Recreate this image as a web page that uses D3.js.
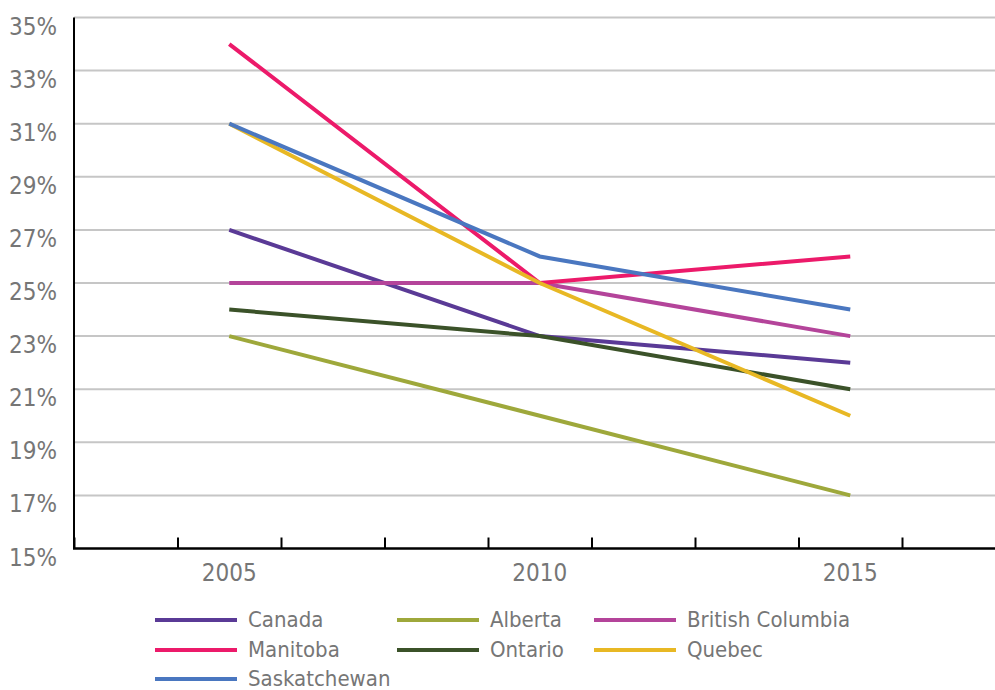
<!DOCTYPE html>
<html>
<head>
<meta charset="utf-8">
<script src="https://cdn.jsdelivr.net/npm/d3@7"></script>
<style>
  html, body { margin: 0; padding: 0; background: #fff; }
  svg { display: block; }
  text { font-family: "Liberation Sans Narrow", "DejaVu Sans Condensed", "Roboto", sans-serif; fill: #767676; }
</style>
</head>
<body>
<svg id="chart" width="995" height="690"></svg>
<script>
const years = [2005, 2010, 2015];
const yTicks = [15, 17, 19, 21, 23, 25, 27, 29, 31, 33, 35];
const seriesNames = ["Canada", "Alberta", "British Columbia", "Manitoba", "Ontario", "Quebec", "Saskatchewan"];
const seriesColors = ["#5a3a96", "#9ea83b", "#b4449a", "#ec1a6a", "#3b5229", "#e8b824", "#4a77c0"];
const canada = [27, 23, 22];
const alberta = [23, 20, 17];
const britishColumbia = [25, 25, 23];
const manitoba = [34, 25, 26];
const ontario = [24, 23, 21];
const quebec = [31, 25, 20];
const saskatchewan = [31, 26, 24];
const seriesValues = [canada, alberta, britishColumbia, manitoba, ontario, quebec, saskatchewan];

const svg = d3.select("#chart");
const mLeft = 74, mRight = 1005.5, mTop = 17.5, mBottom = 548.5;

const x = d3.scaleLinear().domain([2002.5, 2017.5]).range([mLeft, mRight]);
const y = d3.scaleLinear().domain([15, 35]).range([mBottom, mTop]);

// gridlines
svg.append("g")
  .selectAll("line")
  .data(yTicks.filter(d => d > 15))
  .join("line")
  .attr("x1", mLeft).attr("x2", 995)
  .attr("y1", d => y(d)).attr("y2", d => y(d))
  .attr("stroke", "#c6c6c6").attr("stroke-width", 2);

// y labels
svg.append("g")
  .selectAll("text")
  .data(yTicks)
  .join("text")
  .attr("x", 57)
  .attr("y", d => y(d) + 17)
  .attr("text-anchor", "end")
  .attr("font-size", 24)
  .text(d => d + "%");

// x axis
const xTickVals = d3.range(0, 9).map(k => 2002.5 + k * 5 / 3);
const xAxis = d3.axisBottom(x)
  .tickValues(xTickVals)
  .tickSize(-11)
  .tickFormat("");
const gx = svg.append("g").attr("transform", `translate(0,${mBottom})`).call(xAxis);
gx.select(".domain").remove();
gx.selectAll(".tick line").attr("stroke", "#000").attr("stroke-width", 2);
gx.append("line").attr("x1", mLeft - 1).attr("x2", 995).attr("y1", 0).attr("y2", 0)
  .attr("stroke", "#000").attr("stroke-width", 2.5);

// y axis line
svg.append("line").attr("x1", mLeft).attr("x2", mLeft).attr("y1", mTop).attr("y2", mBottom)
  .attr("stroke", "#000").attr("stroke-width", 2);

// x labels
svg.append("g")
  .selectAll("text")
  .data(years)
  .join("text")
  .attr("x", d => x(d))
  .attr("y", 581)
  .attr("text-anchor", "middle")
  .attr("font-size", 24)
  .text(d => d);

// lines
const line = d3.line().x((d, i) => x(years[i])).y(d => y(d));
svg.append("g")
  .selectAll("path")
  .data(seriesValues)
  .join("path")
  .attr("d", d => line(d))
  .attr("fill", "none")
  .attr("stroke", (d, i) => seriesColors[i])
  .attr("stroke-width", 4);

// legend
const legCols = [155, 397, 594];
const legRows = [620, 650, 679];
const leg = svg.append("g")
  .selectAll("g")
  .data(seriesNames)
  .join("g")
  .attr("transform", (d, i) => `translate(${legCols[i % 3]},${legRows[Math.floor(i / 3)]})`);
leg.append("line").attr("x1", 0).attr("x2", 82).attr("y1", 0).attr("y2", 0)
  .attr("stroke", (d, i) => seriesColors[i]).attr("stroke-width", 4);
leg.append("text").attr("x", 93).attr("y", 7).attr("font-size", 22).text(d => d);
</script>
</body>
</html>
